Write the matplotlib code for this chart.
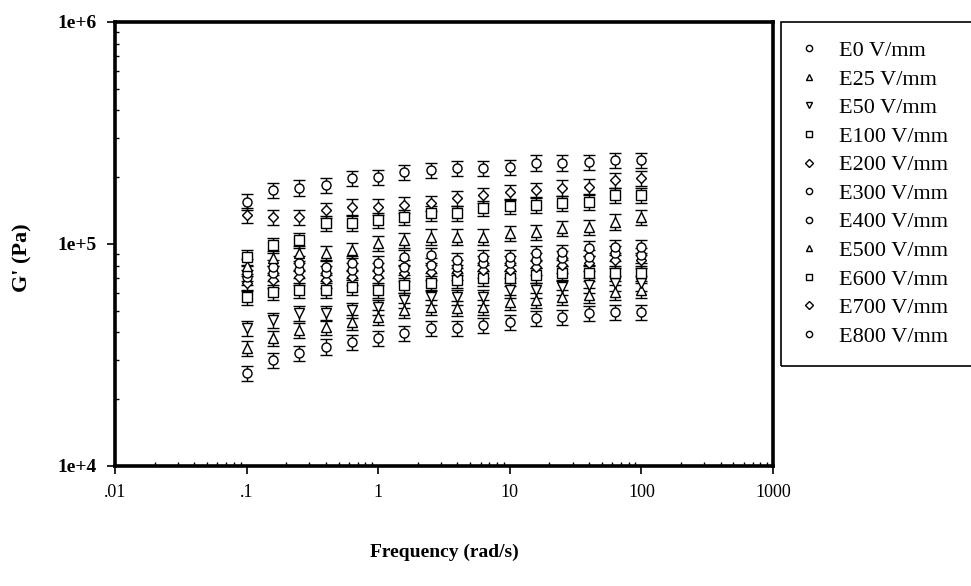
import matplotlib
matplotlib.use("Agg")
import matplotlib.pyplot as plt
from matplotlib.patches import Rectangle
from matplotlib.ticker import LogLocator, NullFormatter

plt.rcParams['font.family'] = ['Liberation Serif', 'DejaVu Serif']

# angular frequency sweep (rad/s)
freq = [0.1, 0.158, 0.251, 0.398, 0.631, 1.0, 1.58, 2.51,
        3.98, 6.31, 10.0, 15.8, 25.1, 39.8, 63.1, 100.0]

# storage modulus G' (Pa) at each electric field strength
g_e0 = [26200, 30000, 32300, 34400, 36200, 37700, 39700, 41800,
        41800, 43200, 44500, 46400, 46900, 48900, 49400, 49400]
g_e25 = [34000, 37700, 41000, 42300, 44500, 46900, 50400, 52000,
         51500, 52000, 54800, 55900, 57700, 58900, 60800, 62100]
g_e50 = [41800, 45500, 48900, 48900, 50400, 52000, 55900, 57700,
         57700, 57700, 62100, 62100, 64000, 65400, 66700, 66700]
g_e100 = [57700, 60800, 62100, 62100, 64000, 62100, 65400, 66700,
          68800, 70300, 70300, 72500, 74000, 74000, 74000, 74000]
g_e200 = [66700, 68800, 71000, 68800, 71000, 71000, 74000, 74800,
          74800, 76400, 76400, 78800, 80400, 82100, 84700, 84700]
g_e300 = [71000, 74000, 76400, 74000, 76400, 76400, 78800, 80400,
          78800, 82100, 82100, 84700, 86500, 87400, 91100, 89200]
g_e400 = [74000, 78800, 82100, 78800, 82100, 82100, 87400, 89200,
          84700, 87400, 87400, 91100, 92000, 95900, 96900, 96900]
g_e500 = [79600, 86500, 91100, 91100, 94000, 101000, 104000, 108000,
          108000, 108000, 112000, 113000, 118000, 119000, 126000, 132000]
g_e600 = [87400, 99000, 104000, 124000, 124000, 128000, 132000, 138000,
          138000, 145000, 148000, 150000, 153000, 155000, 166000, 166000]
g_e700 = [135000, 132000, 132000, 142000, 147000, 147000, 150000, 153000,
          161000, 166000, 171000, 175000, 179000, 181000, 194000, 198000]
g_e800 = [155000, 175000, 179000, 184000, 198000, 200000, 211000, 215000,
          220000, 220000, 222000, 232000, 232000, 234000, 239000, 239000]

labels = ["E0 V/mm", "E25 V/mm", "E50 V/mm", "E100 V/mm", "E200 V/mm",
          "E300 V/mm", "E400 V/mm", "E500 V/mm", "E600 V/mm", "E700 V/mm",
          "E800 V/mm"]
series = [g_e0, g_e25, g_e50, g_e100, g_e200, g_e300, g_e400, g_e500,
          g_e600, g_e700, g_e800]
markers = ["o", "^", "v", "s", "D", "o", "o", "^", "s", "D", "o"]

err_frac = 0.08  # relative scatter shown as error bars

fig = plt.figure(figsize=(9.71, 5.86), dpi=100)
ax = fig.add_axes([115 / 971, 1 - 466 / 586, 658 / 971, 444 / 586])

handles = []
for g, m, lab in zip(series, markers, labels):
    ms = 5.5 if m == "D" else 6.5
    ax.errorbar(freq, g, yerr=[err_frac * v for v in g], fmt=m, ms=ms,
                mfc="white", mec="black", mew=1.0, ecolor="black",
                elinewidth=1.0, capsize=4.5, capthick=1.3, zorder=3)
    h, = ax.plot([], [], m, ms=4.5, mfc="white", mec="black", mew=1.0,
                 linestyle="none", label=lab)
    handles.append(h)

ax.set_xscale("log")
ax.set_yscale("log")
ax.set_xlim(0.01, 1000)
ax.set_ylim(1e4, 1e6)

for s in ax.spines.values():
    s.set_linewidth(2.6)

ax.set_xticks([0.01, 0.1, 1, 10, 100, 1000])
ax.set_xticklabels([".01", ".1", "1", "10", "100", "1000"], fontsize=13)
ax.set_yticks([1e4, 1e5, 1e6])
ax.set_yticklabels(["1e+4", "1e+5", "1e+6"], fontsize=14, fontweight="bold")
ax.xaxis.set_minor_locator(LogLocator(base=10, subs=range(2, 10)))
ax.yaxis.set_minor_locator(LogLocator(base=10, subs=range(2, 10)))
ax.xaxis.set_minor_formatter(NullFormatter())
ax.yaxis.set_minor_formatter(NullFormatter())
ax.tick_params(which="major", direction="out", length=6, width=1.2, pad=7)
ax.tick_params(which="minor", direction="in", length=3, width=1.0)

ax.set_xlabel("Frequency (rad/s)", fontsize=14, fontweight="bold")
ax.set_ylabel("G' (Pa)", fontsize=16, fontweight="bold")
ax.xaxis.set_label_coords(0.5, -0.175)
ax.yaxis.set_label_coords(-0.125, 0.47)

# legend box runs off the right edge of the figure
fig.patches.append(Rectangle((781 / 971, 1 - 366 / 586), 200 / 971, 344 / 586,
                             transform=fig.transFigure, fill=False,
                             edgecolor="black", linewidth=1.2))
fig.legend(handles=handles, loc="upper left",
           bbox_to_anchor=(780 / 971, 1 - 25 / 586), frameon=False,
           borderpad=0.2, fontsize=16, labelspacing=0.36, handletextpad=0.75,
           handlelength=1.2)

fig.savefig("out.png", dpi=100)
